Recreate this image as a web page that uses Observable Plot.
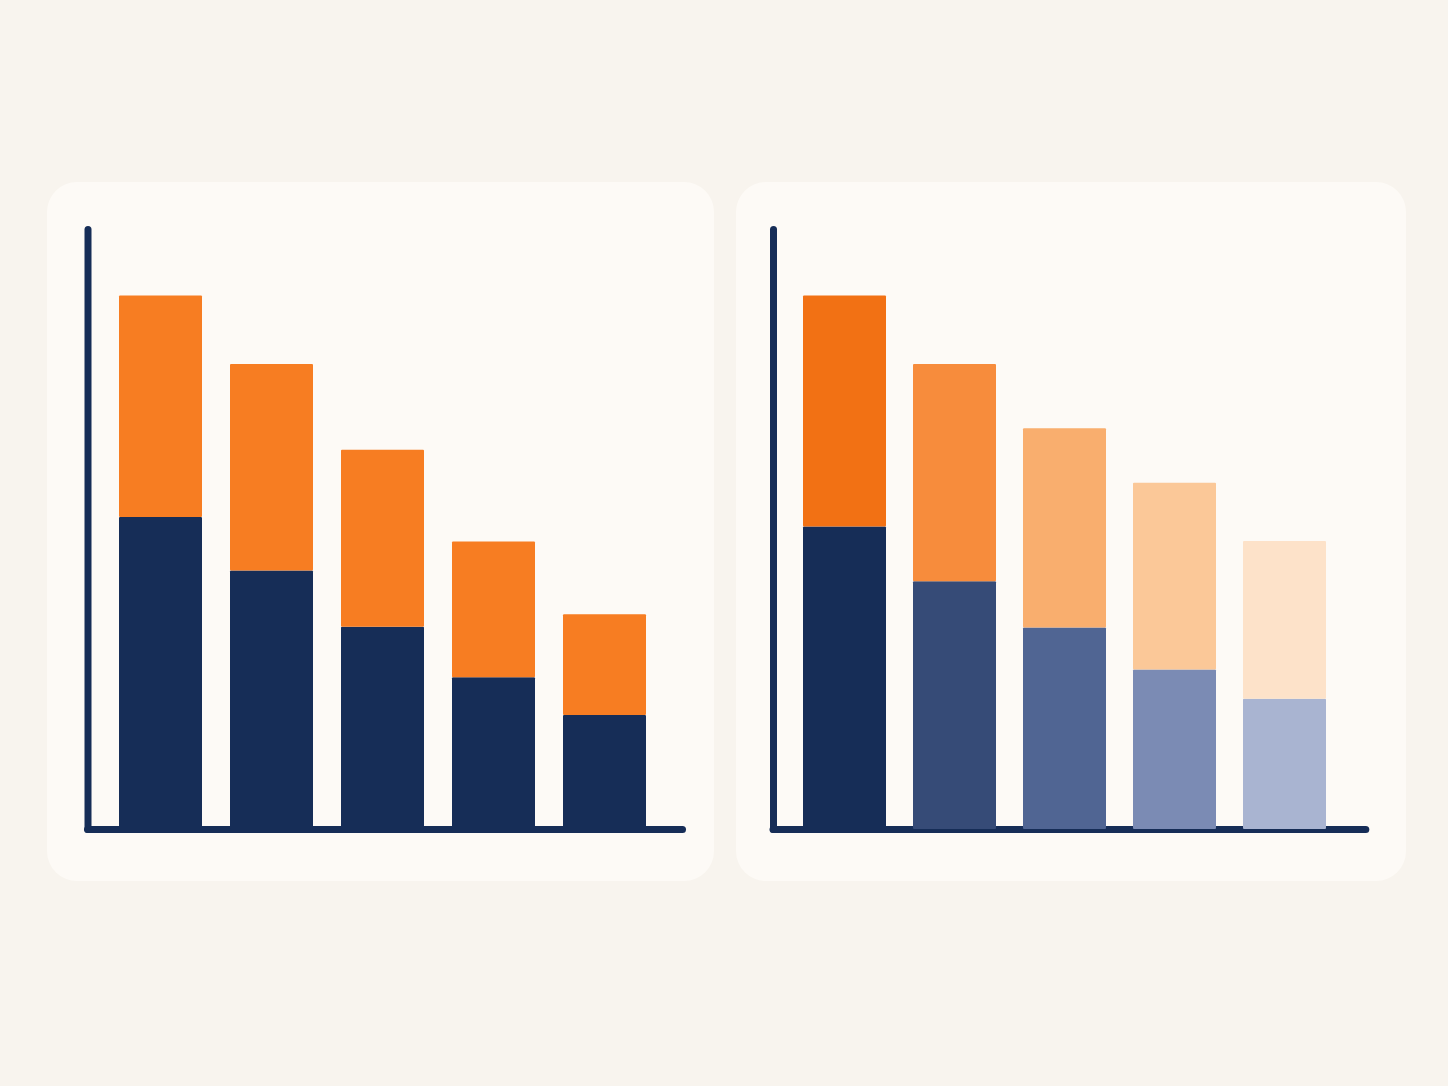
<!DOCTYPE html>
<html>
<head>
<meta charset="utf-8">
<script src="https://cdn.jsdelivr.net/npm/d3@7"></script>
<script src="https://cdn.jsdelivr.net/npm/@observablehq/plot@0.6"></script>
<style>
  html, body { margin: 0; padding: 0; }
  body { width: 1448px; height: 1086px; background: #f8f4ee; position: relative; overflow: hidden; font-family: Inter, sans-serif; }
  .card { position: absolute; top: 182px; height: 699px; background: #fdfaf6; border-radius: 30px; }
  .card svg { display: block; background: transparent; }
</style>
</head>
<body>
<div class="card" id="left" style="left:47px;width:667px;"></div>
<div class="card" id="right" style="left:736px;width:670px;"></div>
<script>
// ---- data ----
const categories = ["1", "2", "3", "4", "5"];
const series = ["base", "top"];
const leftBase  = [52.0, 43.1, 33.7, 25.3, 19.0];
const leftTop   = [36.9, 34.4, 29.5, 22.6, 16.8];
const rightBase = [50.4, 41.3, 33.6, 26.6, 21.7];
const rightTop  = [38.5, 36.2, 33.2, 31.1, 26.3];

// ---- style constants ----
const NAVY = "#162d57";
const ORANGE = "#f77d22";
const rightBaseColors = ["#162d57", "#364b77", "#506593", "#7b8bb4", "#a9b4d1"];
const rightTopColors  = ["#f27114", "#f78c3c", "#f9ae6e", "#fbc898", "#fde2c9"];

function rowsFrom(base, top) {
  const rows = [];
  categories.forEach((c, i) => rows.push({cat: c, series: "base", key: "base-" + c, value: base[i]}));
  categories.forEach((c, i) => rows.push({cat: c, series: "top", key: "top-" + c, value: top[i]}));
  return rows;
}

function panel({width, height, axisX, axisRight, barsRange, rows, fillChannel, color}) {
  return Plot.plot({
    width, height,
    marginLeft: axisX,
    marginRight: width - axisRight,
    marginTop: 47,
    marginBottom: 52,
    style: {background: "transparent", overflow: "visible"},
    x: {axis: null, domain: categories, range: barsRange, paddingInner: 0.25, paddingOuter: 0},
    y: {axis: null, domain: [0, 100]},
    color,
    marks: [
      Plot.frame({anchor: "left", stroke: NAVY, strokeWidth: 7, strokeLinecap: "round"}),
      Plot.ruleY([0], {stroke: NAVY, strokeWidth: 7, strokeLinecap: "round"}),
      Plot.barY(rows, {x: "cat", y: "value", fill: fillChannel, rx: 1})
    ]
  });
}

const leftRows = rowsFrom(leftBase, leftTop);
const rightRows = rowsFrom(rightBase, rightTop);

document.getElementById("left").append(panel({
  width: 667, height: 699, axisX: 40.5, axisRight: 635.5, barsRange: [70, 600.3],
  rows: leftRows, fillChannel: "series",
  color: {domain: series, range: [NAVY, ORANGE]}
}));

document.getElementById("right").append(panel({
  width: 670, height: 699, axisX: 37, axisRight: 629.8, barsRange: [65, 592],
  rows: rightRows, fillChannel: "key",
  color: {
    domain: [...categories.map(c => "base-" + c), ...categories.map(c => "top-" + c)],
    range: [...rightBaseColors, ...rightTopColors]
  }
}));
</script>
</body>
</html>
